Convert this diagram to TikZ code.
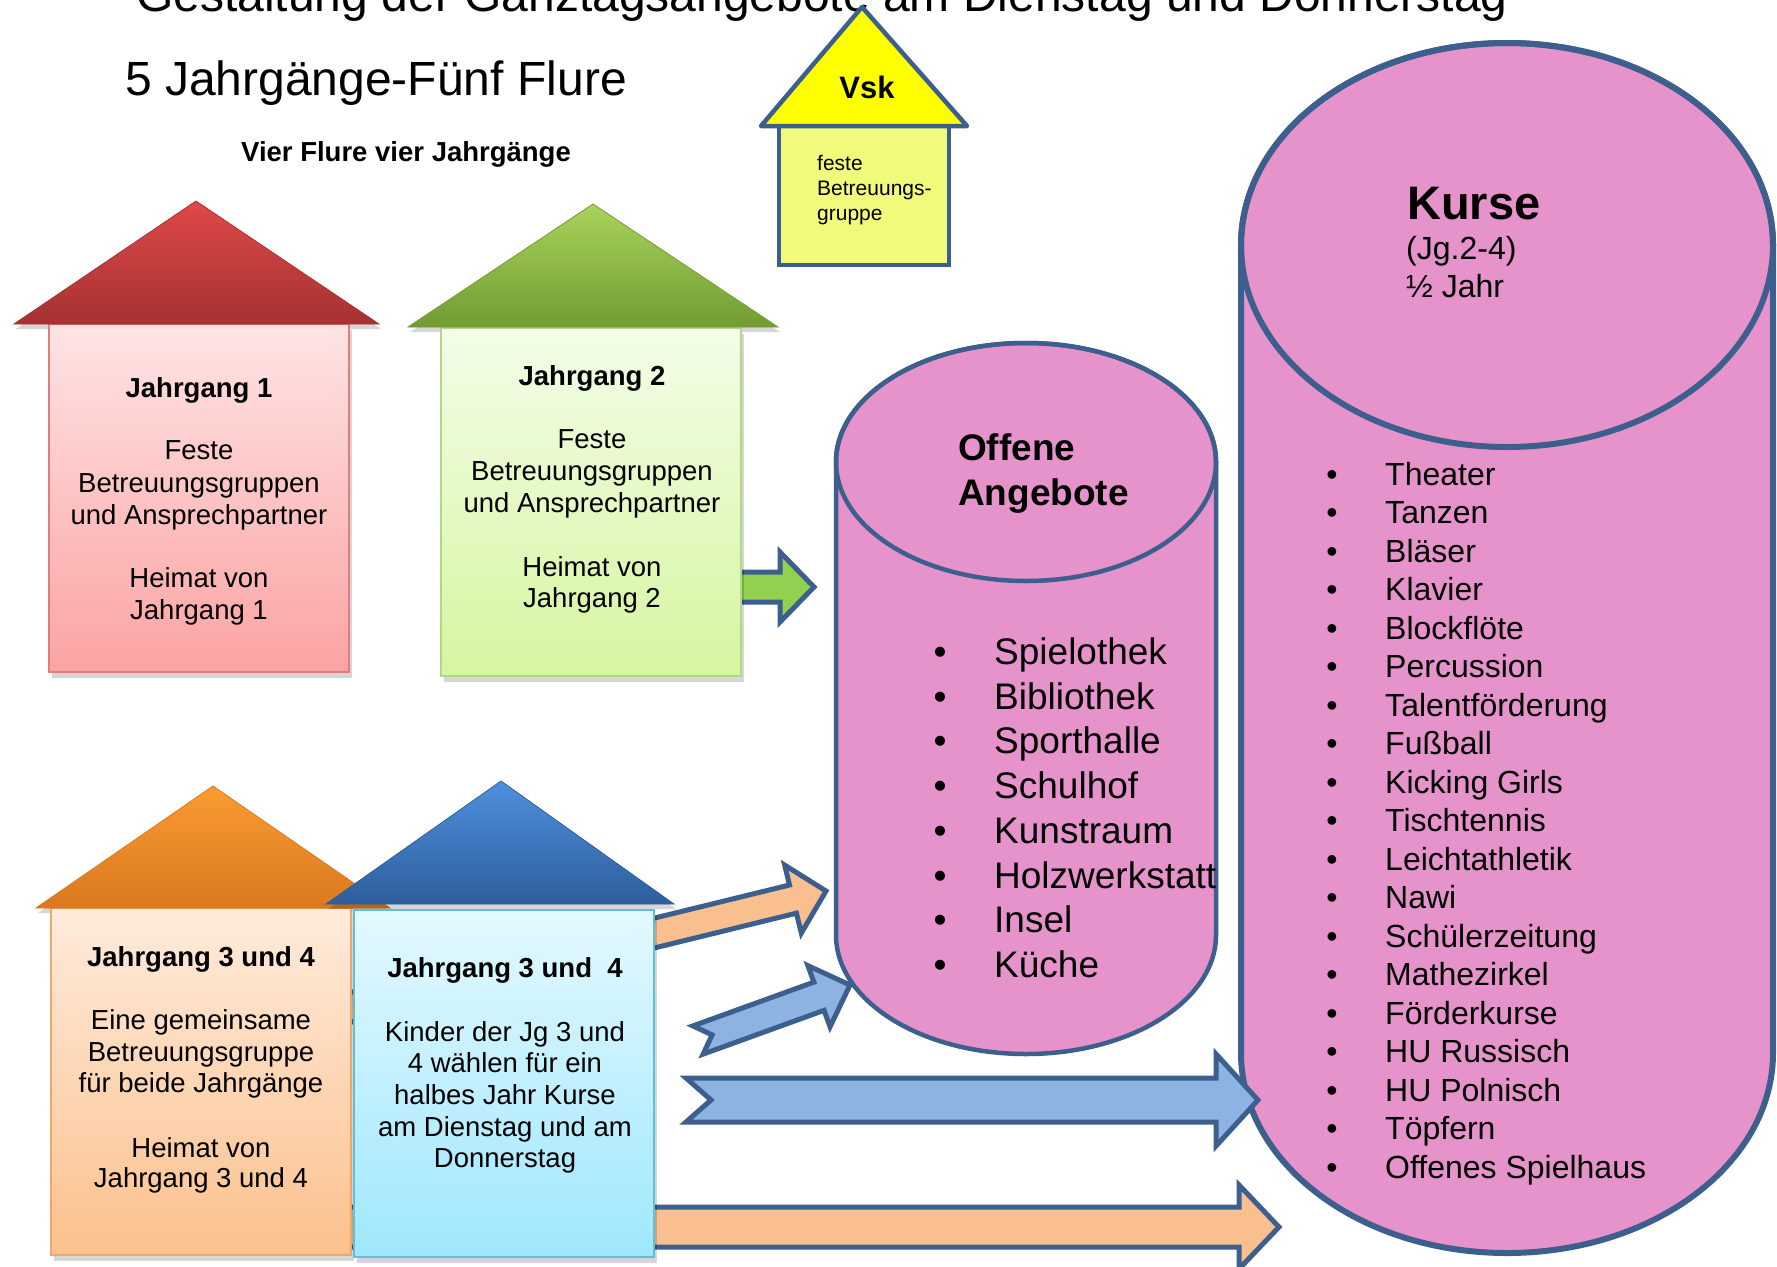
\documentclass[tikz,border=0pt]{standalone}
\usepackage{fontspec}
\setmainfont{Liberation Sans}
\usetikzlibrary{calc}
\definecolor{cylfill}{HTML}{E693CB}
\definecolor{edgeblue}{HTML}{3C5F8D}
\definecolor{arrblue}{HTML}{8DB3E2}
\definecolor{arrorange}{HTML}{F9BF8F}
\definecolor{arrgreen}{HTML}{92D050}
\definecolor{vskbody}{HTML}{F1FA7A}
\definecolor{vskroof}{HTML}{FFFF00}
\definecolor{redtop}{HTML}{FFE4E4}
\definecolor{redbot}{HTML}{FBA3A3}
\definecolor{redline}{HTML}{E07C7C}
\definecolor{redrooftop}{HTML}{E04848}
\definecolor{redroofbot}{HTML}{A53232}
\definecolor{greentop}{HTML}{F3FDE8}
\definecolor{greenbot}{HTML}{D5F6A0}
\definecolor{greenline}{HTML}{B0D888}
\definecolor{greenrooftop}{HTML}{A9D35B}
\definecolor{greenroofbot}{HTML}{729B33}
\definecolor{orangetop}{HTML}{FFEBDC}
\definecolor{orangebot}{HTML}{FBC18D}
\definecolor{orangeline}{HTML}{EFA66A}
\definecolor{orangerooftop}{HTML}{FB9B32}
\definecolor{orangeroofbot}{HTML}{DA7820}
\definecolor{bluetop}{HTML}{E3F9FF}
\definecolor{bluebot}{HTML}{9FE7FD}
\definecolor{blueline}{HTML}{5EBFD9}
\definecolor{bluerooftop}{HTML}{4E90DD}
\definecolor{blueroofbot}{HTML}{2E5E9C}
% block arrow: #1 style, #2 start, #3 tip, #4 shaft half width, #5 head half width, #6 head length, #7 notch depth
\newcommand\mkblockarrow[7]{%
  \path ($(#3)!#6pt!(#2)$) coordinate (hb);
  \draw[#1] ($(#2)!#4pt!90:(#3)$) -- ($(hb)!#4pt!90:(#3)$) -- ($(hb)!#5pt!90:(#3)$) -- (#3)
    -- ($(hb)!#5pt!-90:(#3)$) -- ($(hb)!#4pt!-90:(#3)$) -- ($(#2)!#4pt!-90:(#3)$)
    -- ($(#2)!#7pt!(#3)$) -- cycle;}
\begin{document}
\begin{tikzpicture}[x=1pt,y=-1pt,
  t48/.style={font=\fontsize{48}{56}\selectfont, inner sep=0pt, anchor=base west},
  hl/.style={font=\fontsize{27.5}{32}\selectfont, inner sep=0pt, anchor=base},
  vsktxt/.style={font=\fontsize{21}{25}\selectfont, inner sep=0pt, anchor=base west},
  ol/.style={font=\fontsize{37}{44}\selectfont, inner sep=0pt, anchor=base west},
  olb/.style={font=\fontsize{37}{44}\selectfont, inner sep=0pt, anchor=base},
  kl/.style={font=\fontsize{32}{38}\selectfont, inner sep=0pt, anchor=base west},
  klb/.style={font=\fontsize{32}{38}\selectfont, inner sep=0pt, anchor=base},
  cyl/.style={fill=cylfill, draw=edgeblue, line width=4.5pt},
  arr/.style={draw=edgeblue, line width=5pt, line join=miter},
  housebody/.style={draw, line width=1.2pt, inner sep=0pt, minimum width=300pt},
  shadowc/.style={fill=black, opacity=0.16},
  roofedge/.style={line width=0.8pt, line join=miter},
]
\useasboundingbox (0,0) rectangle (1777,1266);
\fill[white] (0,0) rectangle (1777,1266);

% titles
\node[t48] (title) at (136,11) {Gestaltung der Ganztagsangebote am Dienstag und Donnerstag};
\node[t48] (sub) at (125,95) {5 Jahrgänge-Fünf Flure};
\node[font=\fontsize{27.5}{32}\selectfont\bfseries, inner sep=0pt, anchor=base west] (vier) at (241,161) {Vier Flure vier Jahrgänge};

% cylinders
\path[cyl] (836,462) -- (836,935) arc[start angle=180, end angle=360, x radius=190pt, y radius=119pt]
  -- (1216,462) arc[start angle=0, end angle=180, x radius=190pt, y radius=119pt] -- cycle;
\draw[draw=edgeblue, line width=4.5pt] (1026,462) ellipse[x radius=190pt, y radius=119pt];
\coordinate (offene) at (1026,462);

\path[cyl, line width=6pt] (1241,245) -- (1241,1053) arc[start angle=180, end angle=360, x radius=266pt, y radius=200pt]
  -- (1773,1053) -- (1773,245) arc[start angle=0, end angle=180, x radius=266pt, y radius=202pt] -- cycle;
\draw[draw=edgeblue, line width=6pt] (1507,245) ellipse[x radius=266pt, y radius=202pt];
\coordinate (kurse) at (1507,245);

% arrow end points
\coordinate (gaS) at (725,587);   \coordinate (gaT) at (814,587);
\coordinate (oaS) at (340,1010);  \coordinate (oaT) at (826,891);
\coordinate (baS) at (698,1040);  \coordinate (baT) at (850,985);
\coordinate (bhS) at (686,1100);  \coordinate (bhT) at (1258,1100);
\coordinate (ohS) at (340,1227);  \coordinate (ohT) at (1279,1227);

\mkblockarrow{arr, fill=arrorange}{ohS}{ohT}{20}{42}{40}{0}
\mkblockarrow{arr, fill=arrorange}{oaS}{oaT}{14.5}{35}{34}{0}
\mkblockarrow{arr, fill=arrblue}{baS}{baT}{15}{32.5}{33}{15}
\mkblockarrow{arr, fill=arrblue}{bhS}{bhT}{22}{46}{42}{25}
\mkblockarrow{arr, fill=arrgreen}{gaS}{gaT}{15}{35}{34}{0}

% house 1 (red)
\fill[shadowc, shift={(3,6)}] (49,324) rectangle (349,672);
\fill[shadowc, shift={(2,5)}] (196,201) -- (379,324) -- (14,324) -- cycle;
\node[housebody, draw=redline, top color=redtop, bottom color=redbot, minimum height=348pt] (body1) at (199,498) {};
\path[roofedge, draw=redroofbot, top color=redrooftop, bottom color=redroofbot] (196,201) -- (379,324) -- (14,324) -- cycle;
\foreach \y/\t [count=\i] in {397/{\textbf{Jahrgang 1}}, 459/Feste, 492/Betreuungsgruppen, 524/und Ansprechpartner, 587/Heimat von, 619/Jahrgang 1}
  \node[hl] (ja\i) at (199,\y) {\t};

% house 2 (green)
\fill[shadowc, shift={(3,6)}] (441,328) rectangle (741,676);
\fill[shadowc, shift={(2,5)}] (593,204) -- (778,327) -- (408,327) -- cycle;
\node[housebody, draw=greenline, top color=greentop, bottom color=greenbot, minimum height=348pt] (body2) at (591,502) {};
\path[roofedge, draw=greenroofbot, top color=greenrooftop, bottom color=greenroofbot] (593,204) -- (778,327) -- (408,327) -- cycle;
\foreach \y/\t [count=\i] in {385/{\textbf{Jahrgang 2}}, 448/Feste, 480/Betreuungsgruppen, 512/und Ansprechpartner, 576/Heimat von, 607/Jahrgang 2}
  \node[hl] (jb\i) at (592,\y) {\t};

% Vsk house
\draw[fill=vskbody, draw=edgeblue, line width=4.5pt] (779,126) rectangle (949,265);
\draw[fill=vskroof, draw=edgeblue, line width=4.5pt, line join=round] (862,7) -- (967,126) -- (761,126) -- cycle;
\node[font=\fontsize{31}{36}\selectfont\bfseries, inner sep=0pt, anchor=base] (vsk) at (867,98) {Vsk};
\node[vsktxt] (vs1) at (817,170) {feste};
\node[vsktxt] (vs2) at (817,195) {Betreuungs-};
\node[vsktxt] (vs3) at (817,220) {gruppe};

% house 3/4 (orange)
\fill[shadowc, shift={(3,6)}] (51,908) rectangle (351,1255);
\fill[shadowc, shift={(2,5)}] (213,786) -- (390,908) -- (36,908) -- cycle;
\node[housebody, draw=orangeline, top color=orangetop, bottom color=orangebot, minimum height=347pt] (body3) at (201,1081.5) {};
\path[roofedge, draw=orangeroofbot, top color=orangerooftop, bottom color=orangeroofbot] (213,786) -- (390,908) -- (36,908) -- cycle;
\foreach \y/\t [count=\i] in {966/{\textbf{Jahrgang 3 und 4}}, 1029/Eine gemeinsame, 1061/Betreuungsgruppe, 1092/für beide Jahrgänge, 1157/Heimat von, 1187/Jahrgang 3 und 4}
  \node[hl] (jc\i) at (201,\y) {\t};

% house 3/4 (blue)
\fill[shadowc, shift={(3,6)}] (354,910) rectangle (654,1257);
\fill[shadowc, shift={(2,5)}] (501,781) -- (674,904) -- (326,904) -- cycle;
\node[housebody, draw=blueline, top color=bluetop, bottom color=bluebot, minimum height=347pt] (body4) at (504,1083.5) {};
\path[roofedge, draw=blueroofbot, top color=bluerooftop, bottom color=blueroofbot] (501,781) -- (674,904) -- (326,904) -- cycle;
\foreach \y/\t [count=\i] in {977/{\textbf{Jahrgang 3 und~~4}}, 1041/Kinder der Jg 3 und, 1072/4 wählen für ein, 1104/halbes Jahr Kurse, 1136/am Dienstag und am, 1167/Donnerstag}
  \node[hl] (jd\i) at (505,\y) {\t};

% Offene Angebote text
\node[font=\fontsize{37}{44}\selectfont\bfseries, inner sep=0pt, anchor=base west] (off1) at (958,460) {Offene};
\node[font=\fontsize{37}{44}\selectfont\bfseries, inner sep=0pt, anchor=base west] (off2) at (958,505) {Angebote};
\foreach \t [count=\i] in {Spielothek, Bibliothek, Sporthalle, Schulhof, Kunstraum, Holzwerkstatt, Insel, Küche} {
  \node[olb] (ob\i) at (940,{664.5+(\i-1)*44.7}) {•};
  \node[ol] (oi\i) at (994,{664.5+(\i-1)*44.7}) {\t};
}

% Kurse text
\node[font=\fontsize{47}{54}\selectfont\bfseries, inner sep=0pt, anchor=base west] (ku1) at (1407,219) {Kurse};
\node[kl] (ku2) at (1406,259) {(Jg.2-4)};
\node[kl] (ku3) at (1406,297) {½ Jahr};
\foreach \t [count=\i] in {Theater, Tanzen, Bläser, Klavier, Blockflöte, Percussion, Talentförderung, Fußball, Kicking Girls, Tischtennis, Leichtathletik, Nawi, Schülerzeitung, Mathezirkel, Förderkurse, HU Russisch, HU Polnisch, Töpfern, Offenes Spielhaus} {
  \node[klb] (kb\i) at (1332,{485+(\i-1)*38.5}) {•};
  \node[kl] (ki\i) at (1385,{485+(\i-1)*38.5}) {\t};
}
\end{tikzpicture}
\end{document}
